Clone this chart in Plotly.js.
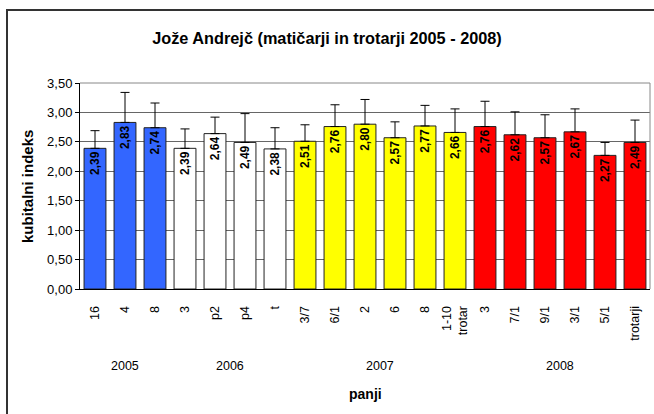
<!DOCTYPE html>
<html>
<head>
<meta charset="utf-8">
<script src="https://cdn.plot.ly/plotly-3.0.1.min.js"></script>
<style>
  html, body { margin: 0; padding: 0; background: #fff; }
  #wrap { position: relative; width: 654px; height: 414px; }
  #chart { position: absolute; left: 0; top: 0; width: 654px; height: 414px; }
  #frame { position: absolute; left: 6px; top: 9px; width: 660px; height: 420px;
           border-left: 2px solid #333; border-top: 2px solid #333; pointer-events: none; }
</style>
</head>
<body>
<div id="wrap"><div id="chart"></div><div id="frame"></div></div>
<script>
// Data
const tickLabels = ["16", "4", "8", "3", "p2", "p4", "t", "3/7", "6/1", "2", "6", "8", "1-10<br>trotar", "3", "7/1", "9/1", "3/1", "5/1", "trotarji"];
const years = ["2005", "2005", "2005", "2006", "2006", "2006", "2006", "2007", "2007", "2007", "2007", "2007", "2007", "2008", "2008", "2008", "2008", "2008", "2008"];
const values = [2.39, 2.83, 2.74, 2.39, 2.64, 2.49, 2.38, 2.51, 2.76, 2.80, 2.57, 2.77, 2.66, 2.76, 2.62, 2.57, 2.67, 2.27, 2.49];
const errors = [0.30, 0.51, 0.42, 0.33, 0.28, 0.49, 0.36, 0.28, 0.37, 0.42, 0.27, 0.35, 0.40, 0.43, 0.39, 0.39, 0.39, 0.22, 0.38];
const groupNames = ["2005", "2006", "2007", "2008"];
const yearColors = { "2005": "#3366FF", "2006": "#FFFFFF", "2007": "#FFFF00", "2008": "#FF0000" };

const FONT = "Liberation Sans, Arial, sans-serif";
const xIdx = values.map((v, i) => i);
const colors = years.map(y => yearColors[y]);

const trace = {
  type: "bar",
  x: xIdx,
  y: values,
  marker: { color: colors, line: { color: "#222", width: 1 } },
  error_y: {
    type: "data", symmetric: false, array: errors,
    arrayminus: errors.map(() => 0),
    color: "#000", thickness: 1, width: 4.5
  },
  texttemplate: "%{y:.2f}",
  textposition: "inside",
  insidetextanchor: "end",
  textangle: -90,
  constraintext: "none",
  textfont: { family: FONT, size: 12, color: "#000", weight: "bold" },
  hoverinfo: "none"
};

// Group label annotations from the years array
const annotations = groupNames.map(g => {
  const idx = years.map((y, i) => y === g ? i : -1).filter(i => i >= 0);
  const center = (idx[0] + idx[idx.length - 1]) / 2;
  return {
    x: center, xref: "x", y: -0.375, yref: "paper", yanchor: "middle",
    text: g, showarrow: false,
    font: { family: FONT, size: 12.5, color: "#000" }
  };
});
annotations.push({
  x: 0.5, xref: "paper", y: -0.51, yref: "paper", yanchor: "middle",
  text: "<b>panji</b>", showarrow: false,
  font: { family: FONT, size: 14, color: "#000" }
});
annotations.push({
  x: -0.093, xref: "paper", xanchor: "center", y: 0.5, yref: "paper", yanchor: "middle",
  text: "<b>kubitalni indeks</b>", showarrow: false, textangle: -90,
  font: { family: FONT, size: 15, color: "#000" }
});

const layout = {
  width: 654, height: 414,
  margin: { l: 80, r: 4, t: 83, b: 125 },
  paper_bgcolor: "#fff", plot_bgcolor: "#fff",
  separators: ",.",
  showlegend: false,
  bargap: 0.27,
  title: {
    text: "<b>Jože Andrejč (matičarji in trotarji 2005 - 2008)</b>",
    x: 0.5, xref: "container", y: 0.908, yref: "container", yanchor: "middle",
    font: { family: FONT, size: 16.3, color: "#000" }
  },
  xaxis: {
    range: [-0.5, values.length - 0.5],
    tickmode: "array", tickvals: xIdx, ticktext: tickLabels,
    tickangle: -90, ticks: "", showgrid: false, zeroline: false,
    showline: true, linecolor: "#000", linewidth: 1,
    ticklabelstandoff: 11,
    mirror: false, fixedrange: true,
    tickfont: { family: FONT, size: 12.5, color: "#000" }
  },
  yaxis: {
    range: [0, 3.5], tickmode: "linear", tick0: 0, dtick: 0.5,
    tickformat: ".2f",
    ticks: "outside", ticklen: 4, tickcolor: "#000",
    showline: true, linecolor: "#000", linewidth: 1,
    showgrid: true, gridcolor: "#666", gridwidth: 1,
    zeroline: false, fixedrange: true,
    tickfont: { family: FONT, size: 13, color: "#000" }
  },
  shapes: [
    { type: "line", xref: "paper", yref: "paper", x0: 0, x1: 1, y0: 1, y1: 1, line: { color: "#888", width: 1 } },
    { type: "line", xref: "paper", yref: "paper", x0: 1, x1: 1, y0: 0, y1: 1, line: { color: "#888", width: 1 } }
  ],
  annotations: annotations
};

Plotly.newPlot("chart", [trace], layout, { displayModeBar: false, staticPlot: true });
</script>
</body>
</html>
